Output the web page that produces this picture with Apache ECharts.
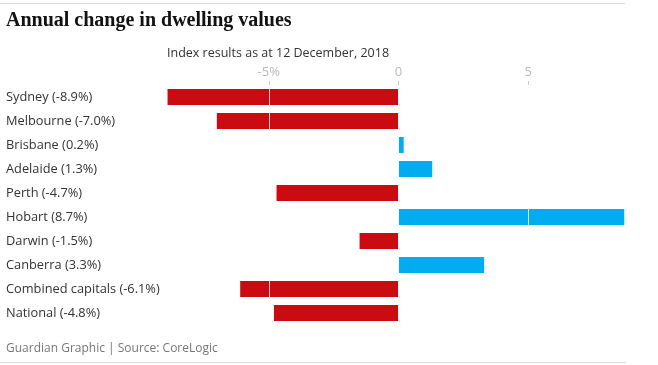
<!DOCTYPE html>
<html>
<head>
<meta charset="utf-8">
<script src="https://cdn.jsdelivr.net/npm/echarts@6/dist/echarts.min.js"></script>
<style>
html,body{margin:0;padding:0;background:#fff;}
#chart{width:658px;height:365px;}
</style>
</head>
<body>
<div id="chart"></div>
<script>
const categories = ["Sydney (-8.9%)","Melbourne (-7.0%)","Brisbane (0.2%)","Adelaide (1.3%)","Perth (-4.7%)","Hobart (8.7%)","Darwin (-1.5%)","Canberra (3.3%)","Combined capitals (-6.1%)","National (-4.8%)"];
const values = [-8.9,-7.0,0.2,1.3,-4.7,8.7,-1.5,3.3,-6.1,-4.8];
const tickValues = [-5,0,5];
const tickLabels = {"-5":"-5%","0":"0","5":"5"};

const RED = '#cc0a11', BLUE = '#00adee';
const chart = echarts.init(document.getElementById('chart'));
const fontSans = '"Open Sans", "Noto Sans", sans-serif';
chart.setOption({
  animation:false,
  graphic:[
    {type:'line', shape:{x1:0,y1:3.5,x2:625,y2:3.5}, style:{stroke:'#dcdcdc',lineWidth:1}},
    {type:'line', shape:{x1:0,y1:362.5,x2:626,y2:362.5}, style:{stroke:'#dcdcdc',lineWidth:1}},
    {type:'text', left:6, top:11, style:{text:'Annual change in dwelling values', font:'bold 20px "Liberation Serif", serif', fill:'#121212'}},
    {type:'text', left:167, top:47, style:{text:'Index results as at 12 December, 2018', font:'12.5px '+fontSans, fill:'#333'}},
    {type:'text', left:6, top:343, style:{text:'Guardian Graphic | Source: CoreLogic', font:'12px '+fontSans, fill:'#777'}}
  ],
  grid:{left:139, right:-1, top:85, bottom:40, containLabel:false},
  xAxis:{
    type:'value', position:'top', min:-10, max:10, interval:5, z:5,
    axisLine:{show:false},
    axisTick:{show:true, length:4, lineStyle:{color:'#ccc'}, customValues:tickValues},
    axisLabel:{customValues:tickValues, formatter:v=>tickLabels[String(v)]||'', color:'#bbb', fontSize:13, fontFamily:fontSans, margin:6},
    splitLine:{show:true, lineStyle:{color:'#ffffff', width:1, opacity:0.85}}
  },
  yAxis:{
    type:'category', data:categories, inverse:true,
    axisLine:{show:false}, axisTick:{show:false},
    axisLabel:{align:'left', margin:133, color:'#333', fontSize:12.8, fontFamily:fontSans},
    splitLine:{show:false}
  },
  series:[{
    type:'bar', data:values.map(v=>({value:v, itemStyle:{color:v<0?RED:BLUE}})),
    barWidth:16, barMinHeight:4
  }]
});
</script>
</body>
</html>
